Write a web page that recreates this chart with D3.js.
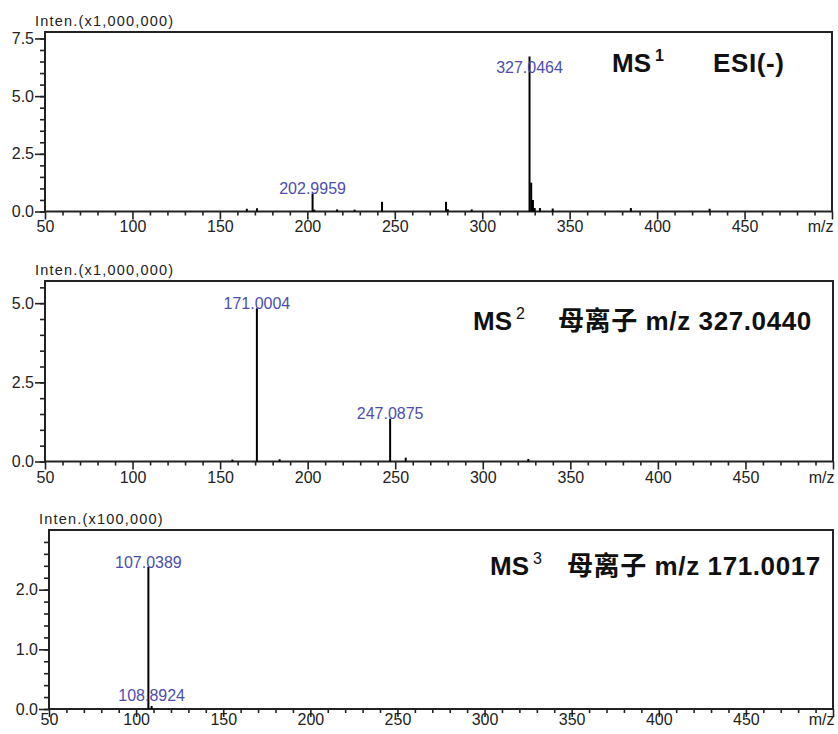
<!DOCTYPE html>
<html>
<head>
<meta charset="utf-8">
<script src="https://cdn.jsdelivr.net/npm/d3@7"></script>
<style>
    body { margin: 0; background: #fff; }
    svg { display: block; }
    .tick text { font-family: Arial, "Liberation Sans", sans-serif; fill: #222; }
</style>
</head>
<body>
<div id="chart"></div>
<script>
// peak lists (m/z, intensity in axis units)
const ms1Mz    = [165.4, 171.2, 202.9959, 204.0, 217.0, 227.0, 242.7, 279.3, 280.3, 294.0, 327.0464, 328.0, 329.0, 330.0, 333.0, 340.3, 385.0, 430.0];
const ms1Inten = [0.12, 0.14, 0.78, 0.08, 0.09, 0.08, 0.42, 0.42, 0.10, 0.09, 6.72, 1.25, 0.50, 0.15, 0.15, 0.13, 0.15, 0.12];

const ms2Mz    = [157.0, 171.0004, 184.0, 247.0875, 256.0, 326.0];
const ms2Inten = [0.06, 4.84, 0.07, 1.35, 0.12, 0.08];

const ms3Mz    = [107.0389, 108.8924];
const ms3Inten = [2.38, 0.05];

// labelled peaks
const ms1Labels = ["202.9959", "327.0464"];
const ms2Labels = ["171.0004", "247.0875"];
const ms3Labels = ["107.0389", "108.8924"];

// axis ranges and ticks
const xDomain = [50, 500];
const xMajor = [50, 100, 150, 200, 250, 300, 350, 400, 450, 500];
const xMinor = d3.range(50, 501, 10).filter(d => d % 50 !== 0);

const ms1YMax = 7.78, ms1YMajor = [0, 2.5, 5.0, 7.5], ms1YMinor = d3.range(0, 16).map(i => i * 0.5);
const ms2YMax = 5.7,  ms2YMajor = [0, 2.5, 5.0],      ms2YMinor = d3.range(0, 12).map(i => i * 0.5);
const ms3YMax = 3.0,  ms3YMajor = [0, 1.0, 2.0],      ms3YMinor = d3.range(0, 15).map(i => i * 0.2);

const yTitles = ["Inten.(x1,000,000)", "Inten.(x1,000,000)", "Inten.(x100,000)"];

// build panels
const panels = [
    {
        mz: ms1Mz, inten: ms1Inten, labels: ms1Labels,
        yMax: ms1YMax, yMajor: ms1YMajor, yMinor: ms1YMinor, yTitle: yTitles[0],
        box: {left: 45, right: 832, top: 32, bottom: 211.5},
        xPad: 1.5,
        title: {ms: "MS", sup: "1", supBold: true, x: 612, y: 72, restX: 713, rest: "ESI(-)"}
    },
    {
        mz: ms2Mz, inten: ms2Inten, labels: ms2Labels,
        yMax: ms2YMax, yMajor: ms2YMajor, yMinor: ms2YMinor, yTitle: yTitles[1],
        box: {left: 45, right: 833, top: 281, bottom: 461.5},
        xPad: 2.5,
        title: {ms: "MS", sup: "2", supBold: false, x: 473, y: 330, restX: 558, rest: "母离子 m/z 327.0440"}
    },
    {
        mz: ms3Mz, inten: ms3Inten, labels: ms3Labels,
        yMax: ms3YMax, yMajor: ms3YMajor, yMinor: ms3YMinor, yTitle: yTitles[2],
        box: {left: 49, right: 833, top: 530, bottom: 709},
        xPad: -3.5,
        title: {ms: "MS", sup: "3", supBold: false, x: 490, y: 575, restX: 567, rest: "母离子 m/z 171.0017"}
    }
];

// label nudges (pixels added to the baseline that sits on the peak top)
const labelNudge = {"327.0464": 17, "108.8924": -5, "171.0004": 1, "107.0389": 1};

const svg = d3.select("#chart")
    .append("svg")
    .attr("width", 838)
    .attr("height", 734)
    .style("background", "#fff");

const ink = "#222";
const labelColor = "#4d4db0";

panels.forEach(p => {
    const b = p.box;

    const x = d3.scaleLinear()
        .domain(xDomain)
        .range([b.left, b.right]);

    const y = d3.scaleLinear()
        .domain([0, p.yMax])
        .range([b.bottom, b.top]);

    const g = svg.append("g");

    // minor x ticks
    g.append("g")
        .attr("transform", `translate(0,${b.bottom})`)
        .call(d3.axisBottom(x).tickValues(xMinor).tickSize(4).tickFormat(""))
        .call(a => a.select(".domain").remove())
        .selectAll("line").attr("stroke", ink).attr("stroke-width", 1.6);

    // major x ticks + labels
    const xAxis = g.append("g")
        .attr("transform", `translate(0,${b.bottom})`)
        .call(d3.axisBottom(x).tickValues(xMajor).tickSize(8).tickPadding(p.xPad)
            .tickFormat(d => d === 500 ? "m/z" : d));
    xAxis.select(".domain").remove();
    xAxis.selectAll("line").attr("stroke", ink).attr("stroke-width", 1.6);
    xAxis.selectAll("text")
        .style("font-size", "16px")
        .attr("fill", ink);
    xAxis.selectAll(".tick")
        .filter(d => d === 500)
        .select("text")
        .attr("text-anchor", "end")
        .attr("x", 1);

    // minor y ticks
    g.append("g")
        .attr("transform", `translate(${b.left},0)`)
        .call(d3.axisLeft(y).tickValues(p.yMinor).tickSize(5).tickFormat(""))
        .call(a => a.select(".domain").remove())
        .selectAll("line").attr("stroke", ink).attr("stroke-width", 1.6);

    // major y ticks + labels
    const yAxis = g.append("g")
        .attr("transform", `translate(${b.left},0)`)
        .call(d3.axisLeft(y).tickValues(p.yMajor).tickSize(10).tickPadding(1)
            .tickFormat(d3.format(".1f")));
    yAxis.select(".domain").remove();
    yAxis.selectAll("line").attr("stroke", ink).attr("stroke-width", 1.6);
    yAxis.selectAll("text")
        .style("font-size", "16px")
        .attr("fill", ink);

    // frame
    g.append("rect")
        .attr("x", b.left)
        .attr("y", b.top)
        .attr("width", b.right - b.left)
        .attr("height", b.bottom - b.top)
        .attr("fill", "none")
        .attr("stroke", ink)
        .attr("stroke-width", 2);

    // y axis title
    g.append("text")
        .attr("x", b.left - 10)
        .attr("y", b.top - 6)
        .attr("font-family", "Arial, 'Liberation Sans', sans-serif")
        .attr("font-size", 14.5)
        .attr("letter-spacing", 1.2)
        .attr("fill", ink)
        .text(p.yTitle);

    // stems
    const peaks = p.mz.map((m, i) => ({mz: m, v: p.inten[i]}));
    g.selectAll(".stem")
        .data(peaks)
        .enter()
        .append("line")
        .attr("class", "stem")
        .attr("x1", d => x(d.mz))
        .attr("x2", d => x(d.mz))
        .attr("y1", y(0))
        .attr("y2", d => y(d.v))
        .attr("stroke", "#000")
        .attr("stroke-width", 2);

    // peak labels
    const labelled = peaks.filter(d => p.labels.includes(d.mz.toFixed(4)));
    g.selectAll(".peak-label")
        .data(labelled)
        .enter()
        .append("text")
        .attr("class", "peak-label")
        .attr("x", d => x(d.mz))
        .attr("y", d => y(d.v) + (labelNudge[d.mz.toFixed(4)] || 0))
        .attr("text-anchor", "middle")
        .attr("font-family", "Arial, 'Liberation Sans', sans-serif")
        .attr("font-size", 16)
        .attr("fill", labelColor)
        .text(d => d.mz.toFixed(4));

    // panel title
    const t = p.title;
    const title = g.append("text")
        .attr("x", t.x)
        .attr("y", t.y)
        .attr("font-family", "Arial, 'Liberation Sans', 'Noto Sans CJK SC', sans-serif")
        .attr("font-size", 26)
        .attr("font-weight", "bold")
        .attr("fill", "#111");
    title.append("tspan").text(t.ms);
    title.append("tspan")
        .attr("dx", 4)
        .attr("dy", -11)
        .attr("font-size", 16)
        .attr("font-weight", t.supBold ? "bold" : "normal")
        .text(t.sup);
    title.append("tspan")
        .attr("x", t.restX)
        .attr("y", t.y)
        .attr("letter-spacing", 0.6)
        .text(t.rest);
});
</script>
</body>
</html>
